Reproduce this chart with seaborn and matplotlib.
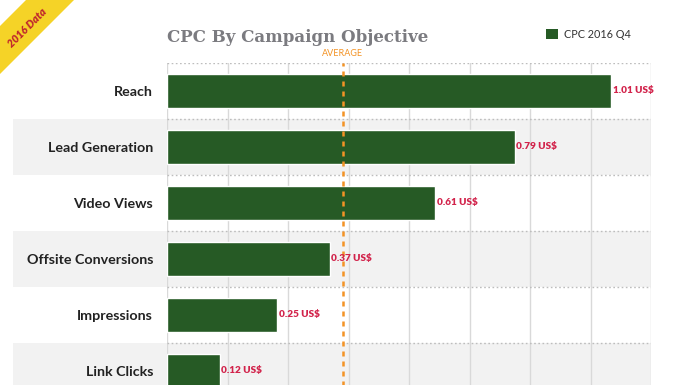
import numpy as np
import matplotlib
matplotlib.use("Agg")
import matplotlib.pyplot as plt
import matplotlib.transforms as mtransforms
from matplotlib.patches import Patch, Polygon
import pandas as pd
import seaborn as sns

# ─────────────────────────────────────────────
# DATA
# ─────────────────────────────────────────────
objectives = ["Reach", "Lead Generation", "Video Views",
              "Offsite Conversions", "Impressions", "Link Clicks"]
cpc_values = [1.01, 0.79, 0.61, 0.37, 0.25, 0.12]
average_cpc = 0.40
series_name = "CPC 2016 Q4"
x_max = 1.1

GREEN  = "#265a25"
RED    = "#d2234b"
ORANGE = "#f39325"
BAND   = "#f2f2f2"

df = pd.DataFrame({"objective": objectives, "cpc": cpc_values})

# ─────────────────────────────────────────────
# FIGURE
# ─────────────────────────────────────────────
sns.set_theme(style="white")
plt.rcParams["font.family"] = ["Lato", "DejaVu Sans"]

W, H = 696, 385
fig = plt.figure(figsize=(W / 100, H / 100), dpi=100)
row_px = 56
ax = fig.add_axes([167 / W, 1 - (63 + row_px * len(objectives)) / H,
                   484 / W, row_px * len(objectives) / H])

sns.barplot(data=df, x="cpc", y="objective", orient="h", color=GREEN,
            width=0.59, saturation=1, ax=ax, zorder=3)

ax.set_xlim(0, x_max)
ax.set_ylim(len(objectives) - 0.5, -0.5)
ax.set_xlabel("")
ax.set_ylabel("")

# alternating row bands (reach out under the labels)
left_ext = -(167 - 13) / 484
for i in range(len(objectives)):
    if i % 2 == 1:
        ax.axhspan(i - 0.5, i + 0.5, xmin=left_ext, xmax=1,
                   color=BAND, zorder=0, clip_on=False, lw=0)

# grid: solid vertical, dotted horizontal row borders
ax.set_xticks(np.linspace(0, x_max, 9))
ax.set_xticklabels([])
ax.set_yticks(np.arange(-0.5, len(objectives)), minor=True)
ax.grid(axis="x", which="major", color="#d9d9d9", lw=1, zorder=1)
ax.grid(axis="y", which="minor", color="#bdbdbd", lw=1,
        linestyle=(0, (1.2, 1.8)), zorder=1)
ax.grid(axis="y", which="major", visible=False)
ax.tick_params(axis="both", which="both", length=0)
ax.tick_params(axis="y", pad=10)
for lab in ax.get_yticklabels():
    lab.set_fontweight("bold")
    lab.set_fontsize(10.3)
    lab.set_color("#222222")
for s in ax.spines.values():
    s.set_visible(False)
ax.set_axisbelow(True)

# value labels
for i, v in enumerate(cpc_values):
    ax.annotate(f"{v:.2f} US$", xy=(v, i), xytext=(1.2, 0),
                textcoords="offset points", va="center", ha="left",
                fontsize=7.2, fontweight="heavy", color=RED, zorder=5)

# average line
ax.axvline(average_cpc, color=ORANGE, lw=1.8, linestyle=(0, (2, 2)),
           zorder=4, ymax=1)
trans = mtransforms.blended_transform_factory(ax.transData, ax.transAxes)
ax.text(average_cpc, 1.0 + 5 / (row_px * len(objectives)), "AVERAGE",
        transform=trans, ha="center", va="bottom", fontsize=6.5,
        color=ORANGE)

# title + legend
fig.text(167 / W, 1 - 42 / H, "CPC By Campaign Objective",
         family="DejaVu Serif", fontweight="bold", fontsize=12,
         color="#7b7b80", ha="left", va="baseline")
fig.legend(handles=[Patch(facecolor=GREEN, edgecolor="none", label=series_name)],
           loc="center left", bbox_to_anchor=(536 / W, 1 - 34 / H),
           frameon=False, fontsize=7.8, handlelength=1.1, handleheight=1.1,
           handletextpad=0.55, labelcolor="#333333")

# corner ribbon
def px(x, y):
    return (x / W, 1 - y / H)

ribbon = Polygon([px(26, 0), px(74, 0), px(0, 74), px(0, 26)],
                 closed=True, facecolor="#f5d327", edgecolor="none",
                 transform=fig.transFigure)
fig.patches.append(ribbon)
fig.text(*px(27.5, 27.5), "2016 Data", rotation=45, ha="center", va="center",
         fontsize=7.8, fontweight="heavy", fontstyle="italic",
         color="#c0282d")

fig.savefig("out.png", dpi=100)
